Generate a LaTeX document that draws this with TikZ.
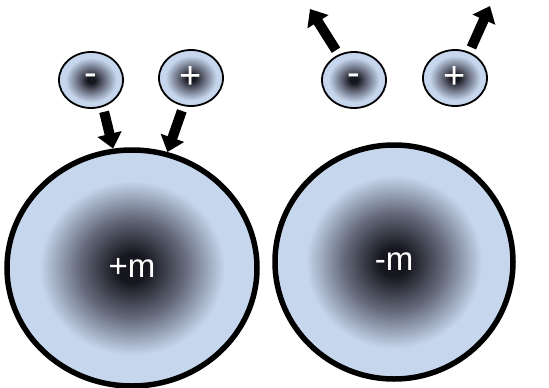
\documentclass[tikz,border=0pt]{standalone}
\usepackage{fontspec}
\setmainfont{Liberation Sans}
\usetikzlibrary{shapes.geometric,arrows.meta}
\definecolor{lblue}{RGB}{198,214,237}
\definecolor{core}{RGB}{22,22,30}
\definecolor{midg}{RGB}{100,105,122}
\pgfdeclareradialshading{bigball}{\pgfpoint{0bp}{0bp}}{color(0bp)=(core); color(3bp)=(core); color(10.5bp)=(midg); color(18.5bp)=(lblue); color(50bp)=(lblue)}
\pgfdeclareradialshading{smallball}{\pgfpoint{0bp}{0bp}}{color(0bp)=(core); color(3bp)=(core); color(10bp)=(midg); color(20bp)=(lblue); color(50bp)=(lblue)}
\tikzset{
  bigatom/.style={ellipse, draw=black, line width=5.5pt, shading=bigball, inner sep=0pt, text=white, font=\fontsize{33}{36}\selectfont},
  smallatom/.style={ellipse, draw=black, line width=1.8pt, shading=smallball, minimum width=64pt, minimum height=56pt, inner sep=0pt, text=white, font=\fontsize{38}{40}\selectfont},
  bigarrow/.style={line width=10pt, -{Triangle[width=24pt,length=15pt]}}
}
\begin{document}
\begin{tikzpicture}[x=1pt,y=-1pt]
\useasboundingbox (0,0) rectangle (549,388);
\node[bigatom, minimum width=250pt, minimum height=236pt] (bigL) at (132,268) {+m};
\node[bigatom, minimum width=238pt, minimum height=234pt] (bigR) at (394,262) {-m};
\node[smallatom] (lminus) at (91,80) {-};
\node[smallatom] (lplus) at (191,78) {+};
\node[smallatom] (rminus) at (354,80) {-};
\node[smallatom] (rplus) at (455,78) {+};
\coordinate (outA) at (310,9);
\coordinate (outB) at (490,6);
\draw[bigarrow, shorten <=5pt] (lminus.-66) -- (bigL.99);
\draw[bigarrow, shorten <=5pt] (lplus.-105) -- (bigL.73);
\draw[bigarrow, shorten <=5pt] (rminus.121) -- (outA);
\draw[bigarrow, shorten <=5pt] (rplus.61) -- (outB);
\end{tikzpicture}
\end{document}
